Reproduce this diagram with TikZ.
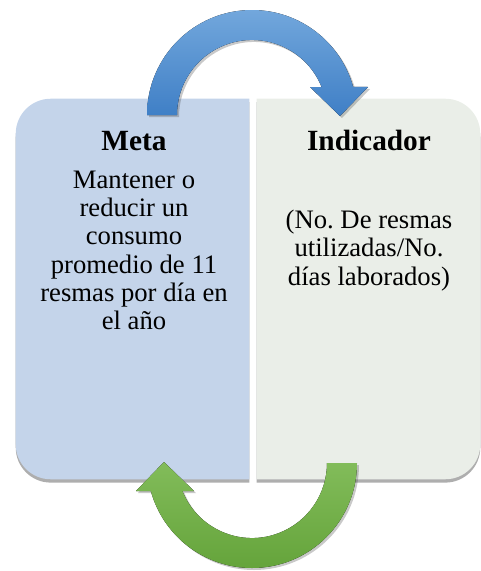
\documentclass[tikz,border=0pt]{standalone}
\usepackage{fontspec}
\setmainfont{Liberation Serif}
\usetikzlibrary{calc,shadows}
\frenchspacing

\definecolor{metablue}{HTML}{C4D4EA}
\definecolor{indgray}{HTML}{EAEEE8}
\definecolor{arrowbluetop}{HTML}{72A7DC}
\definecolor{arrowbluebot}{HTML}{3F7FC6}
\definecolor{arrowgreentop}{HTML}{82BC5A}
\definecolor{arrowgreenbot}{HTML}{65A43B}

\tikzset{
  boxshape/.style={draw=none, minimum width=174.75pt, minimum height=285pt, inner sep=0pt},
  boxfill/.style={drop shadow={shadow xshift=0pt, shadow yshift=-2.5pt, opacity=.45, fill=black!70}},
  loopshade/.style={drop shadow={shadow xshift=1.5pt, shadow yshift=-1.5pt, opacity=.3, fill=black!70}},
  titletext/.style={font=\fontsize{22}{26}\selectfont\bfseries, anchor=base, inner sep=0pt},
  bodytext/.style={font=\fontsize{20}{21.1}\selectfont, align=center, anchor=north, inner sep=0pt}
}

\begin{document}
\begin{tikzpicture}[x=0.75pt, y=-0.75pt]
  \useasboundingbox (0,0) rectangle (481,571);

  % the two boxes
  \node[boxshape] (metabox) at (132.5,289) {};
  \node[boxshape, minimum width=167.25pt] (indbox) at (368.5,289) {};

  \fill[metablue, boxfill] (metabox.north east) -- ($(metabox.north west)+(35,0)$)
    arc[start angle=270, end angle=180, radius=35] -- ($(metabox.south west)+(0,-35)$)
    arc[start angle=180, end angle=90, radius=35] -- (metabox.south east) -- cycle;
  \fill[indgray, boxfill] (indbox.north west) -- ($(indbox.north east)+(-35,0)$)
    arc[start angle=270, end angle=360, radius=35] -- ($(indbox.south east)+(0,-35)$)
    arc[start angle=0, end angle=90, radius=35] -- (indbox.south west) -- cycle;

  % texts
  \node[titletext] (meta) at (134,150) {Meta};
  \node[bodytext] (metatext) at (134,171) {Mantener o\\reducir un\\consumo\\promedio de 11\\resmas por día en\\el año};
  \node[titletext] (indicador) at (369,150) {Indicador};
  \node[bodytext] (indtext) at (369,210) {(No. De resmas\\utilizadas/No.\\días laborados)};

  % top loop: Meta -> Indicador
  \coordinate (toploop) at (252,115);
  \fill[loopshade, top color=arrowbluetop, bottom color=arrowbluebot]
    ($(toploop)+(-75,0)$) -- ($(toploop)+(-105,0)$)
    arc[start angle=180, end angle=344.5, radius=105] -- ($(toploop)+(116,-28)$)
    -- ($(toploop)+(88,1)$) -- ($(toploop)+(58,-28)$) -- ($(toploop)+(69.6,-28)$)
    arc[start angle=338.1, end angle=180, radius=75] -- cycle;

  % bottom loop: Indicador -> Meta
  \coordinate (botloop) at (252,463);
  \fill[loopshade, top color=arrowgreentop, bottom color=arrowgreenbot]
    ($(botloop)+(75,0)$) -- ($(botloop)+(105,0)$)
    arc[start angle=0, end angle=164.5, radius=105] -- ($(botloop)+(-116,28)$)
    -- ($(botloop)+(-88,-1)$) -- ($(botloop)+(-58,28)$) -- ($(botloop)+(-69.6,28)$)
    arc[start angle=158.1, end angle=0, radius=75] -- cycle;
\end{tikzpicture}
\end{document}
